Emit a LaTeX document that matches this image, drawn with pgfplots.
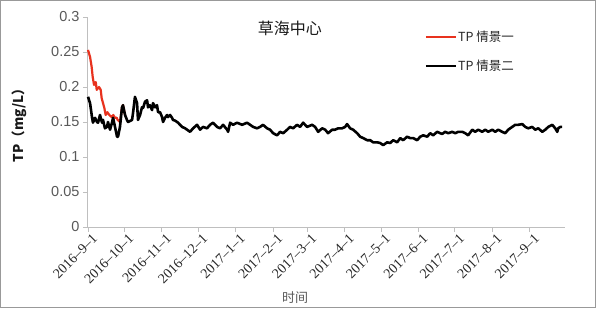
\documentclass[border=0pt]{standalone}
\usepackage{pgfplots}
\pgfplotsset{compat=1.18}
\usepackage{fontspec}
\setmainfont{Liberation Sans}
\newfontfamily\serif{Liberation Serif}
\newfontfamily\cjk{Noto Sans CJK SC}
\definecolor{axgray}{HTML}{BFBFBF}
\definecolor{txtgray}{HTML}{595959}
\definecolor{tpred}{HTML}{E8321E}
\pgfplotstableread{
d v
0 0.253
1.7 0.243
3.0 0.229
3.9 0.214
5.0 0.203
6.4 0.207
7.2 0.196
9.1 0.200
10.5 0.196
11.3 0.184
12.1 0.179
13.5 0.170
14.6 0.160
16.0 0.164
17.6 0.160
19.6 0.157
20.9 0.160
22.3 0.156
23.7 0.156
24.5 0.153
26.4 0.150
28.1 0.171
28.9 0.174
30.6 0.160
}\redtab
\pgfplotstableread{
d v
0 0.186
1.7 0.177
3.3 0.157
4.1 0.149
5.8 0.156
7.4 0.150
8.3 0.149
9.9 0.160
11.6 0.149
12.4 0.153
14.0 0.141
15.7 0.143
16.5 0.150
18.2 0.139
19.8 0.149
20.7 0.156
22.3 0.143
24.0 0.129
24.8 0.129
26.4 0.143
28.1 0.171
28.9 0.174
30.6 0.160
32.2 0.153
33.1 0.150
36.4 0.153
37.2 0.163
38.8 0.186
40.5 0.177
41.3 0.153
43.0 0.160
44.6 0.171
45.5 0.170
47.1 0.179
48.8 0.181
49.6 0.171
51.2 0.174
52.9 0.167
53.7 0.177
55.4 0.171
57.0 0.174
57.9 0.164
59.5 0.164
61.2 0.157
62.0 0.150
63.6 0.156
65.3 0.160
66.1 0.157
67.8 0.160
69.4 0.156
70.2 0.153
71.9 0.152
74.4 0.149
77.7 0.143
80.2 0.141
84.3 0.136
86.8 0.141
90.1 0.146
92.6 0.139
95.0 0.143
98.3 0.141
100.8 0.146
103.3 0.149
106.6 0.143
109.1 0.141
111.6 0.146
114.9 0.139
115.7 0.136
117.4 0.149
119.8 0.146
123.1 0.149
127.3 0.146
131.4 0.149
133.9 0.146
136.4 0.143
139.7 0.141
142.1 0.143
144.6 0.146
147.9 0.141
150.4 0.139
152.9 0.134
156.2 0.131
158.7 0.136
161.2 0.134
164.5 0.139
166.9 0.143
169.4 0.141
172.7 0.146
175.2 0.143
177.7 0.149
181.0 0.143
185.1 0.146
187.6 0.143
190.1 0.136
193.4 0.141
195.9 0.139
198.3 0.134
201.7 0.139
204.1 0.139
206.6 0.141
209.9 0.141
212.4 0.143
214.0 0.147
216.5 0.141
219.0 0.139
222.3 0.134
224.8 0.129
227.3 0.127
230.6 0.124
233.1 0.124
235.5 0.121
238.8 0.121
241.3 0.120
243.8 0.117
247.1 0.121
249.6 0.120
252.1 0.124
255.4 0.121
257.9 0.127
260.3 0.124
263.6 0.129
266.1 0.127
268.6 0.127
271.9 0.124
274.4 0.129
276.9 0.131
280.2 0.129
282.6 0.134
285.1 0.131
288.4 0.136
290.9 0.134
292.6 0.133
295.0 0.136
297.5 0.134
300.8 0.136
303.3 0.134
305.8 0.136
309.1 0.136
311.6 0.134
314.0 0.131
317.4 0.139
319.8 0.136
322.3 0.139
325.6 0.136
328.1 0.139
330.6 0.136
333.9 0.139
336.4 0.136
338.8 0.139
342.1 0.136
344.6 0.134
347.1 0.139
350.4 0.143
352.9 0.146
355.4 0.146
358.7 0.147
361.2 0.143
363.6 0.141
366.9 0.143
369.4 0.139
371.9 0.141
375.2 0.136
377.7 0.139
380.2 0.143
383.5 0.146
385.9 0.141
387.6 0.136
388.4 0.141
390.1 0.143
391.7 0.143
}\blacktab
\begin{document}
\begin{tikzpicture}
\useasboundingbox (-88pt,-81pt) rectangle (508pt,227pt);
\draw[color=axgray!80!black, line width=1.2pt] (-87.4pt,-80.4pt) rectangle (507.4pt,226.4pt);
\begin{axis}[
  at={(0pt,0pt)}, anchor=south west,
  scale only axis, width=477pt, height=210pt,
  xmin=0, xmax=394, ymin=0, ymax=0.3,
  axis x line*=bottom, axis y line*=left,
  axis line style={color=axgray, line width=1pt},
  every axis x line/.append style={-},
  every axis y line/.append style={-},
  tick style={color=axgray, line width=0.8pt},
  major tick length=5pt,
  tick align=outside,
  xtick={0,30,61,91,122,153,181,212,242,273,303,334,365},
  xticklabels={2016–9–1,2016–10–1,2016–11–1,2016–12–1,2017–1–1,2017–2–1,2017–3–1,2017–4–1,2017–5–1,2017–6–1,2017–7–1,2017–8–1,2017–9–1},
  x tick label style={rotate=45, anchor=north east, font=\serif\fontsize{14}{14}\selectfont, color=black!85, inner sep=1pt, xshift=3pt, yshift=-2pt},
  ytick={0,0.05,0.1,0.15,0.2,0.25,0.3},
  yticklabels={0,0.05,0.1,0.15,0.2,0.25,0.3},
  y tick label style={font=\fontsize{14.5}{14.5}\selectfont, color=txtgray, xshift=0pt},
  legend style={at={(rel axis cs:0.705,0.94)}, anchor=north west, draw=none, fill=none,
    font=\cjk\fontsize{12.5}{12.5}\selectfont, row sep=15pt, inner sep=0pt,
    nodes={inner sep=1pt, text=black!85}},
  legend cell align=left,
  legend image code/.code={\draw[#1] (0pt,0pt) -- (30pt,0pt);},
  clip=false,
]
\addplot[color=tpred, line width=2.2pt, line join=round] table[x=d,y=v] {\redtab};
\addlegendentry{TP 情景一}
\addplot[color=black, line width=2.6pt, line join=round] table[x=d,y=v] {\blacktab};
\addlegendentry{TP 情景二}
\node[font=\cjk\fontsize{16}{16}\selectfont, color=black!90] at (rel axis cs:0.423,0.945) {草海中心};
\node[font=\cjk\bfseries\fontsize{13.5}{13.5}\selectfont, rotate=90, color=black!90] at (rel axis cs:-0.143,0.5) {TP（mg/L）};
\node[font=\cjk\fontsize{13}{13}\selectfont, color=txtgray] at (rel axis cs:0.434,-0.338) {时间};
\end{axis}
\end{tikzpicture}
\end{document}
